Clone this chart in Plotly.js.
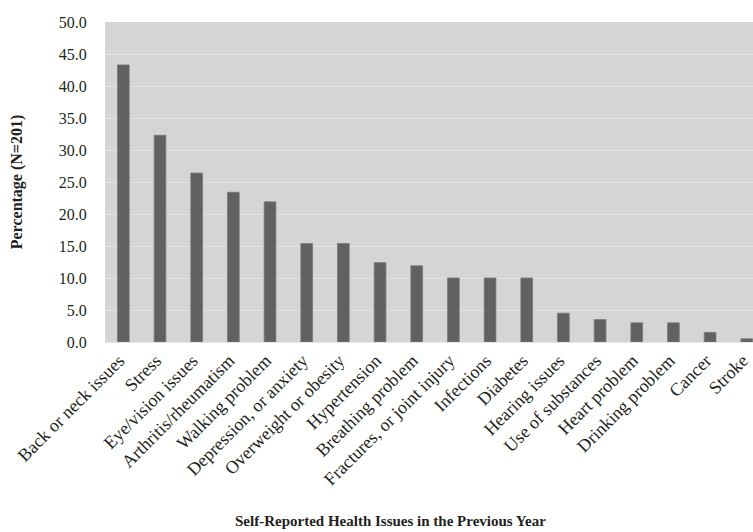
<!DOCTYPE html>
<html>
<head>
<meta charset="utf-8">
<script src="https://cdn.plot.ly/plotly-3.0.1.min.js"></script>
<style>html,body{margin:0;padding:0;background:#fff;}#chart{width:753px;height:532px;}</style>
</head>
<body>
<div id="chart"></div>
<script>
const categories = ["Back or neck issues","Stress","Eye/vision issues","Arthritis/rheumatism","Walking problem","Depression, or anxiety","Overweight or obesity","Hypertension","Breathing problem","Fractures, or joint injury","Infections","Diabetes","Hearing issues","Use of substances","Heart problem","Drinking problem","Cancer","Stroke"];
const percentages = [43.3, 32.3, 26.4, 23.4, 21.9, 15.4, 15.4, 12.4, 11.9, 10.0, 10.0, 10.0, 4.5, 3.5, 3.0, 3.0, 1.5, 0.5];
const yTickVals = [0,5,10,15,20,25,30,35,40,45,50];
const yTickText = yTickVals.map(v => v.toFixed(1));
const yTitle = "Percentage (N=201)";
const xTitle = "Self-Reported Health Issues in the Previous Year";

const font = "Liberation Serif, Times New Roman, serif";

const trace = {
  type: "bar",
  x: categories,
  y: percentages,
  marker: {color: "#616163", line: {color: "#7a7a7c", width: 0.8}},
  width: 0.32,
  hoverinfo: "x+y"
};

const layout = {
  width: 753, height: 532,
  margin: {l: 105, r: 0, t: 22, b: 190},
  paper_bgcolor: "#ffffff",
  plot_bgcolor: "#d4d5d7",
  font: {family: font, color: "#231f20", size: 15},
  showlegend: false,
  xaxis: {
    type: "category",
    range: [-0.5, 17.17],
    tickangle: -45,
    tickfont: {family: font, size: 18, color: "#231f20"},
    ticklabelshift: -4,
    ticks: "", showgrid: false, zeroline: false,
    showline: true, linecolor: "#e6e6e8", linewidth: 1,
    automargin: false
  },
  yaxis: {
    range: [0, 50],
    tickvals: yTickVals, ticktext: yTickText,
    tickfont: {family: font, size: 16, color: "#231f20"},
    ticks: "outside", ticklen: 14, tickcolor: "rgba(0,0,0,0)",
    showgrid: true, gridcolor: "#e2e3e5", gridwidth: 1,
    zeroline: false, showline: false,
    title: {text: yTitle, font: {family: font, size: 16, color: "#231f20", weight: "bold"}, standoff: 32},
    automargin: false
  },
  annotations: [{
    text: "<b>" + xTitle + "</b>",
    xref: "paper", yref: "paper",
    x: (390 - 105) / 648, y: -0.56,
    xanchor: "center", yanchor: "middle",
    showarrow: false,
    font: {family: font, size: 15, color: "#231f20"}
  }]
};

Plotly.newPlot("chart", [trace], layout, {displayModeBar: false, staticPlot: true});
</script>
</body>
</html>
